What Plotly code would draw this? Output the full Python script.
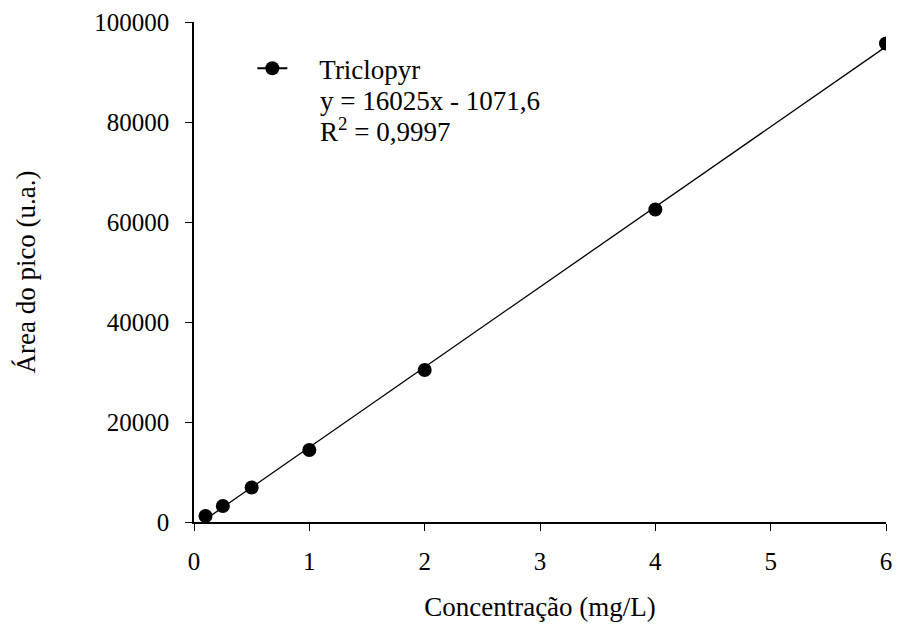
import plotly.graph_objects as go

conc = [0.1, 0.25, 0.5, 1, 2, 4, 6]
area = [1200, 3200, 6900, 14400, 30400, 62500, 95700]
slope = 16025
intercept = -1071.6
series_name = "Triclopyr"
eq_text = "y = 16025x - 1071,6"
r2_text = "R<sup>2</sup> = 0,9997"
x_ticks = [0, 1, 2, 3, 4, 5, 6]
y_ticks = [0, 20000, 40000, 60000, 80000, 100000]
y_ticklabels = ["0", "20000", "40000", "60000", "80000", "100000"]

fit_x = [min(conc), max(conc)]
fit_y = [slope * v + intercept for v in fit_x]

FONT = "Liberation Serif"

fig = go.Figure()
fig.add_trace(go.Scatter(x=fit_x, y=fit_y, mode="lines",
                         line=dict(color="black", width=1.3), showlegend=False,
                         hoverinfo="skip"))
fig.add_trace(go.Scatter(x=conc, y=area, mode="markers",
                         marker=dict(color="black", size=14), showlegend=False))
fig.add_trace(go.Scatter(x=[None], y=[None], mode="lines+markers",
                         name="\u00a0\u00a0\u00a0\u00a0" + series_name,
                         line=dict(color="black", width=2),
                         marker=dict(color="black", size=14)))

fig.update_layout(
    width=901, height=626,
    margin=dict(l=194, r=9, t=20, b=103),
    paper_bgcolor="white", plot_bgcolor="white",
    font=dict(family=FONT, size=25, color="black"),
    showlegend=True,
    legend=dict(x=0.0843, y=(523 - 67) / 503, xanchor="left", yanchor="middle",
                bgcolor="rgba(0,0,0,0)", font=dict(size=27, family=FONT)),
    annotations=[
        dict(x=0.1834, y=(523 - 99) / 503, xref="paper", yref="paper",
             text=eq_text, showarrow=False, xanchor="left", yanchor="middle",
             xshift=-3, font=dict(size=27, family=FONT)),
        dict(x=0.1834, y=(523 - 129) / 503, xref="paper", yref="paper",
             text=r2_text, showarrow=False, xanchor="left", yanchor="middle",
             xshift=-3, font=dict(size=27, family=FONT)),
    ],
)
fig.update_xaxes(range=[0, 6], tickvals=x_ticks, showgrid=False, zeroline=False,
                 showline=True, linecolor="black", linewidth=1.5,
                 ticks="outside", ticklen=7, tickwidth=1.3, tickcolor="black",
                 ticklabelstandoff=9,
                 title=dict(text="Concentração (mg/L)", standoff=23,
                            font=dict(size=27, family=FONT)),
                 tickfont=dict(size=25, family=FONT))
fig.update_yaxes(range=[0, 100000], tickvals=y_ticks, ticktext=y_ticklabels,
                 showgrid=False, zeroline=False,
                 showline=True, linecolor="black", linewidth=1.5,
                 ticks="outside", ticklen=7, tickwidth=1.3, tickcolor="black",
                 ticklabelstandoff=11,
                 title=dict(text="Área do pico (u.a.)", standoff=51,
                            font=dict(size=27, family=FONT)),
                 tickfont=dict(size=25, family=FONT))

fig.write_html("out.html")
